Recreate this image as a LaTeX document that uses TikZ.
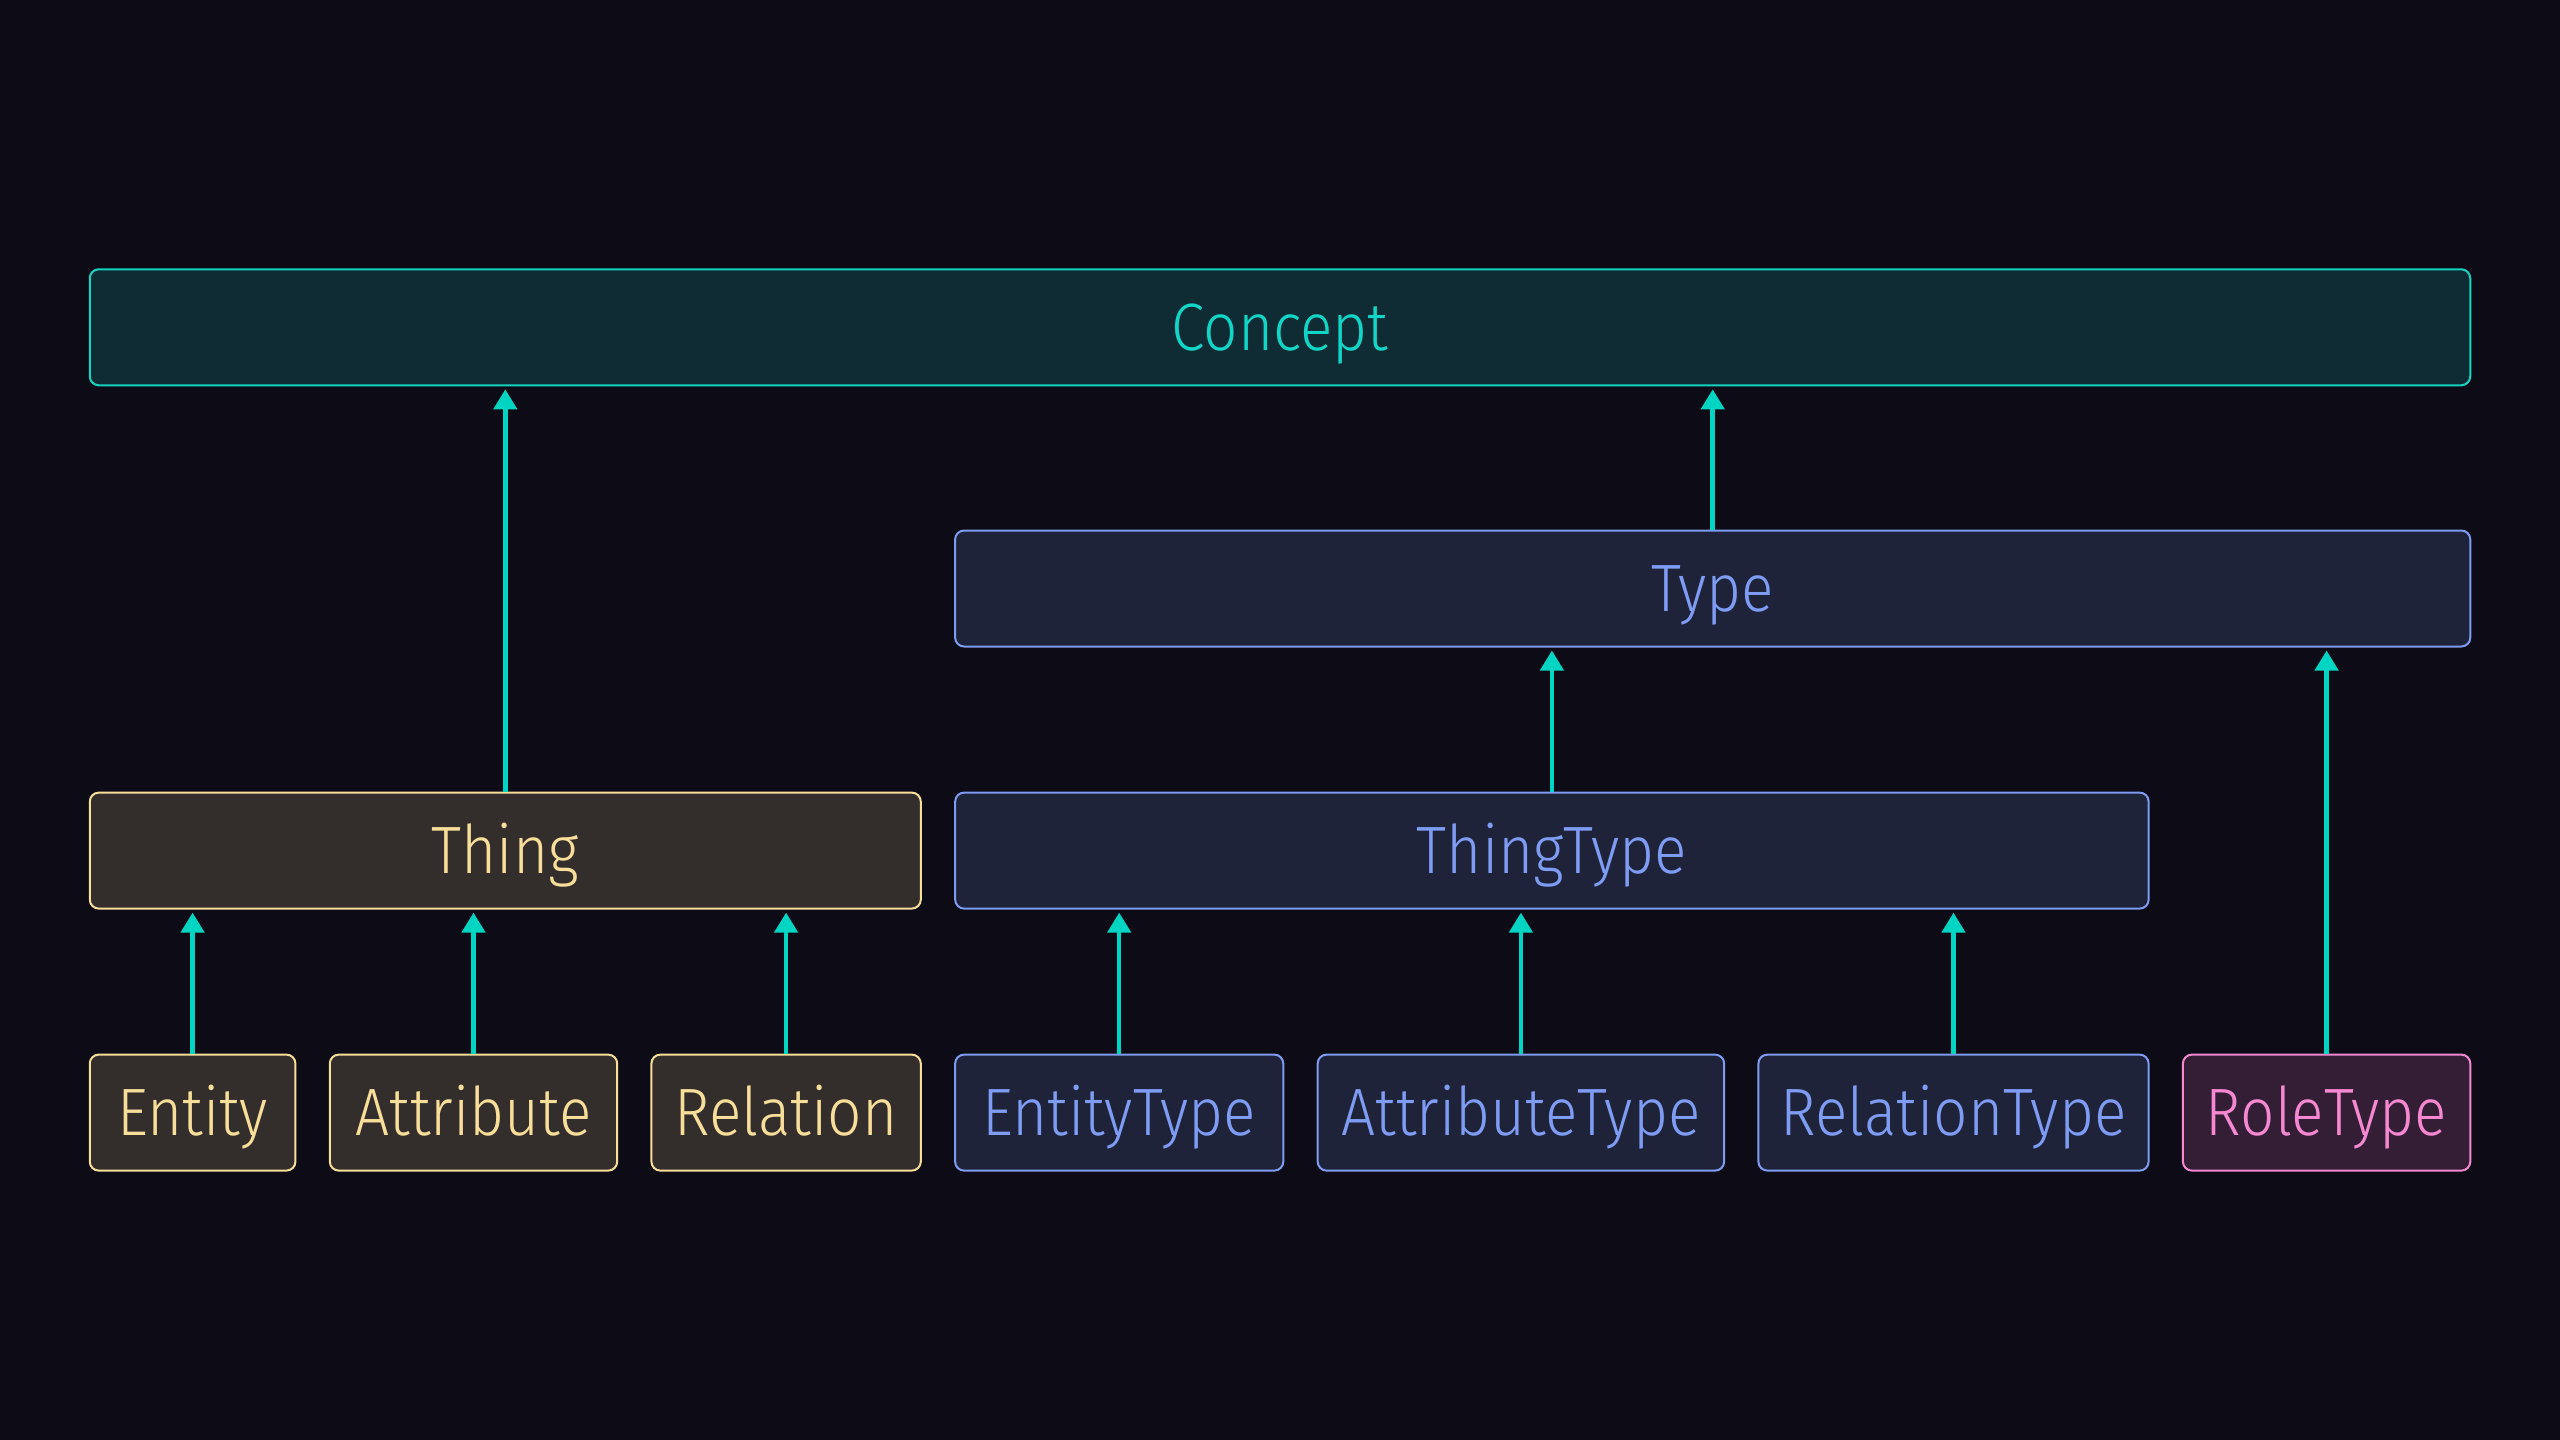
\documentclass[tikz,border=0pt]{standalone}
\usepackage{fontspec}
\setmainfont{Fira Sans Light}[FakeStretch=0.9]
\usetikzlibrary{arrows.meta}
\definecolor{bg}{HTML}{0D0C16}
\definecolor{teal}{HTML}{14D3C2}
\definecolor{tealtext}{HTML}{0FD6C6}
\definecolor{tealfill}{HTML}{0F2B33}
\definecolor{gold}{HTML}{F9DE9A}
\definecolor{goldfill}{HTML}{332E2B}
\definecolor{blue}{HTML}{7E9CF3}
\definecolor{bluefill}{HTML}{1E233A}
\definecolor{pink}{HTML}{F688D2}
\definecolor{pinkfill}{HTML}{331E35}
\definecolor{arrowc}{HTML}{00D4C2}
\tikzset{
  x=1pt, y=-1pt,
  box/.style={rectangle, rounded corners=9pt, line width=2pt, inner sep=0pt,
    minimum height=116pt, text height=46pt, text depth=0pt,
    font=\fontsize{67}{78}\selectfont},
  conceptbox/.style={box, draw=teal, fill=tealfill, text=tealtext},
  thingbox/.style={box, draw=gold, fill=goldfill, text=gold},
  typebox/.style={box, draw=blue, fill=bluefill, text=blue},
  rolebox/.style={box, draw=pink, fill=pinkfill, text=pink},
  arr/.style={draw=arrowc, line width=4.5pt, -{Triangle[width=23pt,length=20pt]}, shorten >=3pt}
}
\begin{document}
\begin{tikzpicture}
\fill[bg] (0,0) rectangle (2560,1440);
\useasboundingbox (0,0) rectangle (2560,1440);
\node[conceptbox, minimum width=2380.5pt] (concept) at (1280,327.3) {Concept};
\node[typebox, minimum width=1515.2pt] (type) at (1712.7,588.5) {Type};
\node[thingbox, minimum width=831pt] (thing) at (505.3,850.6) {Thing};
\node[typebox, minimum width=1193.5pt] (thingtype) at (1551.9,850.6) {ThingType};
\node[thingbox, minimum width=205.7pt] (entity) at (192.6,1112.6) {Entity};
\node[thingbox, minimum width=287.4pt] (attribute) at (473.5,1112.6) {Attribute};
\node[thingbox, minimum width=269.4pt] (relation) at (786.1,1112.6) {Relation};
\node[typebox, minimum width=328.2pt] (entitytype) at (1119.2,1112.6) {EntityType};
\node[typebox, minimum width=406.5pt] (attributetype) at (1520.9,1112.6) {AttributeType};
\node[typebox, minimum width=390.2pt] (relationtype) at (1953.5,1112.6) {RelationType};
\node[rolebox, minimum width=287.4pt] (roletype) at (2326.6,1112.6) {RoleType};
\draw[arr] (thing.north) -- (thing.north |- concept.south);
\draw[arr] (type.north) -- (type.north |- concept.south);
\draw[arr] (thingtype.north) -- (thingtype.north |- type.south);
\draw[arr] (roletype.north) -- (roletype.north |- type.south);
\draw[arr] (entity.north) -- (entity.north |- thing.south);
\draw[arr] (attribute.north) -- (attribute.north |- thing.south);
\draw[arr] (relation.north) -- (relation.north |- thing.south);
\draw[arr] (entitytype.north) -- (entitytype.north |- thingtype.south);
\draw[arr] (attributetype.north) -- (attributetype.north |- thingtype.south);
\draw[arr] (relationtype.north) -- (relationtype.north |- thingtype.south);
\end{tikzpicture}
\end{document}
